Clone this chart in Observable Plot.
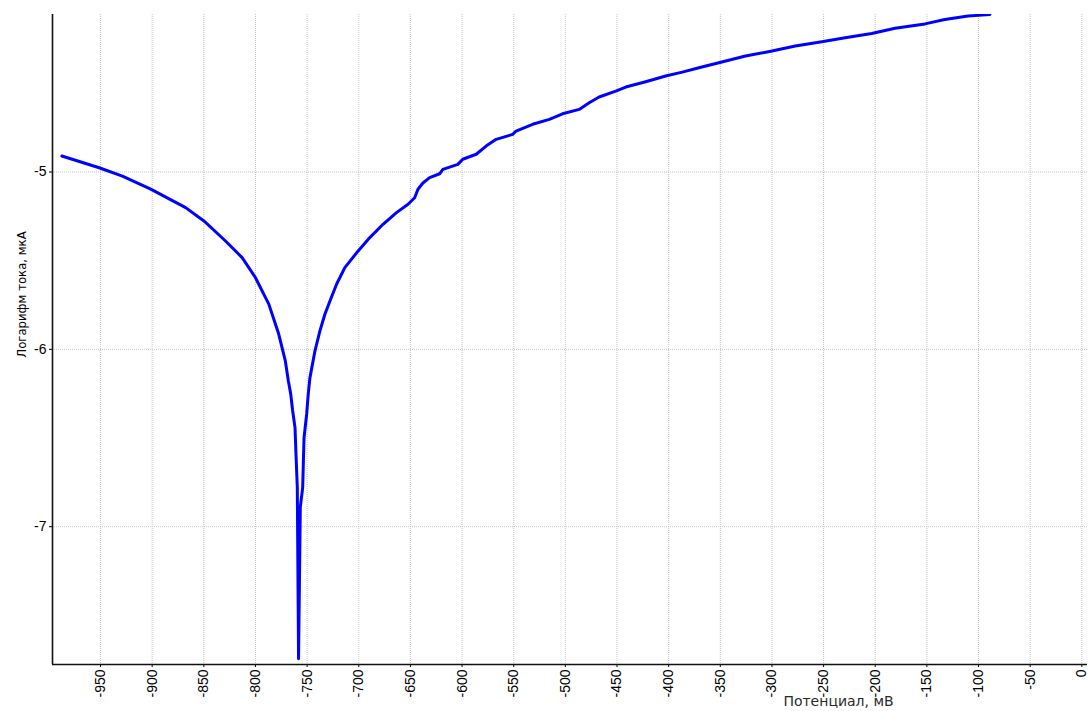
<!DOCTYPE html>
<html>
<head>
<meta charset="utf-8">
<script src="https://cdn.jsdelivr.net/npm/d3@7"></script>
<script src="https://cdn.jsdelivr.net/npm/@observablehq/plot@0.6"></script>
<style>
  html, body { margin: 0; padding: 0; background: #fff; }
  #chart svg { display: block; }
</style>
</head>
<body>
<div id="chart"></div>
<script>
// Potential, mV
const potential = [
  -987.4, -951.3, -928.8, -901.4, -867.6, -849.9, -829.0, -812.9, -800.1, -787.1,
  -777.5, -771.1, -768.2, -765.9, -764.0, -761.7, -760.8, -759.5,
  -758.3,
  -756.6, -754.3, -753.0, -750.4, -748.9, -747.3, -742.4, -737.6, -732.8, -727.9,
  -721.5, -713.5, -700.6, -689.3, -676.5, -663.5, -652.3, -645.9, -642.7, -637.9,
  -631.4, -621.7, -618.6, -604.1, -599.3, -586.3, -576.7, -567.0, -551.0, -547.7,
  -531.7, -515.5, -502.7, -486.6, -476.9, -467.3, -451.2, -441.5, -422.2, -402.9,
  -386.8, -370.7, -351.4, -325.6, -300.0, -277.4, -251.7, -229.1, -203.4, -180.8,
  -151.9, -132.6, -110.1, -89.1
];
// Logarithm of current, uA
const logCurrent = [
  -4.910, -4.976, -5.023, -5.097, -5.201, -5.276, -5.389, -5.483, -5.595, -5.745,
  -5.914, -6.065, -6.177, -6.251, -6.346, -6.442, -6.589, -6.780,
  -7.744,
  -6.890, -6.780, -6.499, -6.363, -6.251, -6.161, -6.008, -5.896, -5.802, -5.727,
  -5.633, -5.539, -5.445, -5.370, -5.295, -5.229, -5.182, -5.145, -5.097, -5.062,
  -5.032, -5.010, -4.985, -4.957, -4.928, -4.900, -4.854, -4.816, -4.788, -4.769,
  -4.731, -4.703, -4.672, -4.647, -4.610, -4.577, -4.544, -4.521, -4.491, -4.459,
  -4.437, -4.412, -4.384, -4.346, -4.318, -4.290, -4.266, -4.243, -4.219, -4.190,
  -4.165, -4.140, -4.121, -4.112
];
const xTicks = [-950, -900, -850, -800, -750, -700, -650, -600, -550, -500,
  -450, -400, -350, -300, -250, -200, -150, -100, -50, 0];
const yTicks = [-5, -6, -7];
const xDomain = [-996.5, 5.5];
const yDomain = [-7.777, -4.112];
const xTitle = "Потенциал, мВ";
const yTitle = "Логарифм тока, мкА";

const data = potential.map((E, i) => ({E, L: logCurrent[i]}));

const font = "'Liberation Sans', Arial, sans-serif";

const chart = Plot.plot({
  width: 1089,
  height: 711,
  marginLeft: 52,
  marginRight: 2,
  marginTop: 14,
  marginBottom: 47,
  style: {background: "#fff", fontFamily: font, fontSize: "14px", color: "#000"},
  x: {domain: xDomain, ticks: xTicks},
  y: {domain: yDomain, ticks: yTicks},
  marks: [
    Plot.gridX(xTicks, {stroke: "#c4c4c4", strokeOpacity: 1, strokeDasharray: "1,1"}),
    Plot.gridY(yTicks, {stroke: "#c4c4c4", strokeOpacity: 1, strokeDasharray: "1,1"}),
    Plot.axisX(xTicks, {tickRotate: -90, tickSize: 3, tickPadding: 2, label: null,
      tickFormat: d => String(d), fontSize: 14}),
    Plot.axisY(yTicks, {tickSize: 3, tickPadding: 3, label: null,
      tickFormat: d => String(d), fontSize: 14}),
    Plot.ruleX([xDomain[0]], {stroke: "#111", strokeWidth: 1.6}),
    Plot.ruleY([yDomain[0]], {stroke: "#111", strokeWidth: 1.6}),
    Plot.line(data, {x: "E", y: "L", stroke: "#0000ff", strokeWidth: 3,
      strokeLinejoin: "round", clip: true}),
    Plot.text([xTitle], {text: d => d, frameAnchor: "bottom-right", textAnchor: "middle",
      dx: -249, dy: 41, fontSize: 14, fontFamily: "'DejaVu Sans', Verdana, sans-serif",
      fill: "#2a2a2a", letterSpacing: "0.5px"}),
    Plot.text([yTitle], {text: d => d, frameAnchor: "top-left", rotate: -90, textAnchor: "middle",
      dx: -36, dy: 280, fontSize: 13, fontFamily: "'Liberation Sans Narrow', 'DejaVu Sans Condensed', sans-serif", fill: "#000"})
  ]
});
document.getElementById("chart").appendChild(chart);
</script>
</body>
</html>
